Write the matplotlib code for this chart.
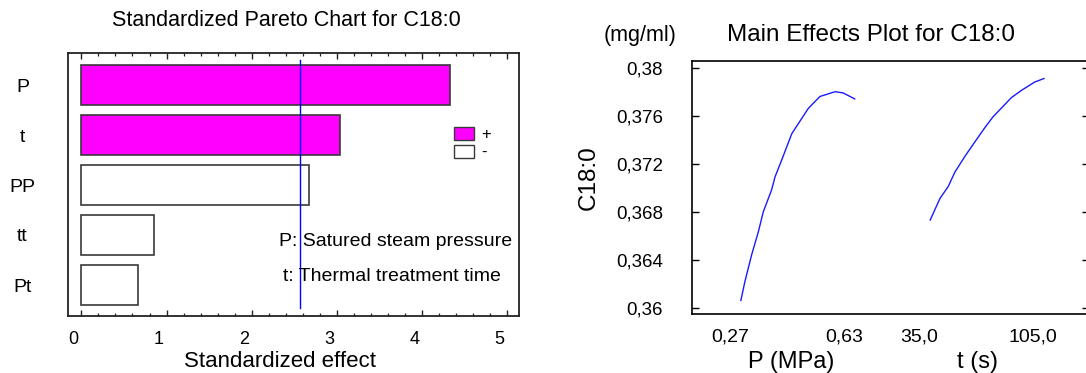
import matplotlib
matplotlib.use('Agg')
import matplotlib.pyplot as plt
from matplotlib.patches import Patch
from matplotlib.transforms import ScaledTranslation, blended_transform_factory
from matplotlib.ticker import MultipleLocator

plt.rcParams['font.family'] = ['Liberation Sans', 'DejaVu Sans']

# ---------------- Pareto chart data ----------------
effects = ['P', 't', 'PP', 'tt', 'Pt']
std_effect = [4.33, 3.04, 2.67, 0.85, 0.67]
effect_sign = ['+', '+', '-', '-', '-']
critical_value = 2.57
effect_ticks = [0, 1, 2, 3, 4, 5]
factor_notes = ['P: Satured steam pressure', 't: Thermal treatment time']

# ---------------- Main effects data ----------------
P_levels = [0.270, 0.283, 0.304, 0.325, 0.341, 0.367, 0.378, 0.399, 0.431,
            0.483, 0.520, 0.568, 0.593, 0.630]
P_response = [0.3606, 0.3622, 0.3644, 0.3663, 0.3680, 0.3698, 0.3709, 0.3723,
              0.3745, 0.3766, 0.3776, 0.3780, 0.3779, 0.3774]
t_levels = [35.0, 41.0, 46.1, 50.2, 56.3, 62.4, 68.6, 73.6, 84.9, 91.0, 99.2, 105.0]
t_response = [0.3673, 0.3691, 0.3701, 0.3713, 0.3726, 0.3738, 0.3750, 0.3759,
              0.3775, 0.3781, 0.3788, 0.3791]
P_range = [0.27, 0.63]
t_range = [35.0, 105.0]
P_tick_labels = ['0,27', '0,63']
t_tick_labels = ['35,0', '105,0']
y_ticks = [0.36, 0.364, 0.368, 0.372, 0.376, 0.38]
y_tick_labels = ['0,36', '0,364', '0,368', '0,372', '0,376', '0,38']

W, H = 1086, 373
fig = plt.figure(figsize=(W / 100, H / 100), dpi=100)
fig.patch.set_facecolor('white')

def px_axes(l, t, r, b):
    return fig.add_axes([l / W, (H - b) / H, (r - l) / W, (b - t) / H])

# ================= Left: Pareto chart =================
ax = px_axes(68.3, 53.3, 519.3, 316)
ypos = list(range(len(effects)))
colors = ['#ff00ff' if s == '+' else 'white' for s in effect_sign]
ax.barh(ypos, std_effect, height=0.8, color=colors, edgecolor='#3a3a3a',
        linewidth=1.2, zorder=2)
ax.set_xlim(-0.153, 5.14)
ax.set_ylim(4.62, -0.634)
ax.axvline(critical_value, ymin=0.029, ymax=0.9745, color='#0000ff', lw=1.0, zorder=3)

ax.set_xticks(effect_ticks)
ax.set_xticklabels([str(v) for v in effect_ticks], fontsize=13)
ax.xaxis.set_minor_locator(MultipleLocator(0.2))
ax.tick_params(axis='x', which='major', direction='in', length=4, width=1.0,
               top=True, bottom=True, pad=11, color='#222222')
ax.tick_params(axis='x', which='minor', direction='in', length=2.5, width=0.9,
               top=True, bottom=True, color='#222222')
off = ScaledTranslation(-8 / 100, 0, fig.dpi_scale_trans)
for lab in ax.get_xticklabels():
    lab.set_transform(lab.get_transform() + off)

ax.set_yticks(ypos)
ax.set_yticklabels(effects, fontsize=14)
ax.tick_params(axis='y', length=0, pad=33)
for lab in ax.get_yticklabels():
    lab.set_horizontalalignment('center')
for sp in ax.spines.values():
    sp.set_linewidth(1.3)
    sp.set_color('#222222')

ax.text(0.7266, 0.283, factor_notes[0], transform=ax.transAxes, ha='center',
        va='center', fontsize=14, zorder=4)
ax.text(0.7177, 0.1496, factor_notes[1], transform=ax.transAxes, ha='center',
        va='center', fontsize=14, zorder=4)

handles = [Patch(facecolor='#ff00ff', edgecolor='#3a3a3a', lw=1.0),
           Patch(facecolor='white', edgecolor='#3a3a3a', lw=1.0)]
ax.legend(handles, ['+', '-'], loc='upper left', bbox_to_anchor=(0.855, 0.7195),
          frameon=False, borderpad=0, borderaxespad=0, fontsize=12,
          handlelength=1.2, handleheight=0.8, labelspacing=0.18, handletextpad=0.45)

fig.text(286.7 / W, 1 - 20.7 / H, 'Standardized Pareto Chart for C18:0',
         ha='center', va='center', fontsize=15.5)
fig.text(280 / W, 1 - 366.7 / H, 'Standardized effect', ha='center',
         va='baseline', fontsize=16)

# ================= Right: Main effects plot =================
ax2 = px_axes(691.7, 60.7, 1089, 314.3)
seg_gap = 1.663  # start position of t segment in axis units

def p_pos(v):
    return (v - P_range[0]) / (P_range[1] - P_range[0])

def t_pos(v):
    return seg_gap + (v - t_range[0]) / (t_range[1] - t_range[0])

ax2.plot([p_pos(v) for v in P_levels], P_response, color='#1a1aff', lw=1.0)
ax2.plot([t_pos(v) for v in t_levels], t_response, color='#1a1aff', lw=1.0)
ax2.set_xlim(-0.432, 3.058)
ax2.set_ylim(0.359445, 0.380583)

ax2.set_yticks(y_ticks)
ax2.set_yticklabels(y_tick_labels, fontsize=13.5)
ax2.tick_params(axis='y', direction='in', length=5, width=1.0, left=True,
                right=True, pad=20.5)
xt = [p_pos(P_range[0]), p_pos(P_range[1]), t_pos(t_range[0]), t_pos(t_range[1])]
ax2.set_xticks(xt)
ax2.set_xticklabels(P_tick_labels + t_tick_labels, fontsize=14)
ax2.tick_params(axis='x', length=0, pad=10)
off2 = ScaledTranslation(-11 / 100, 0, fig.dpi_scale_trans)
for lab in ax2.get_xticklabels():
    lab.set_transform(lab.get_transform() + off2)
for sp in ax2.spines.values():
    sp.set_linewidth(1.2)

ax2.set_ylabel('C18:0', fontsize=17.5, va='center')
ax2.yaxis.set_label_coords(-0.259, 0.5375)

tr = blended_transform_factory(ax2.transData, fig.transFigure)
ax2.text((p_pos(P_range[0]) + p_pos(P_range[1])) / 2 - 0.055, 1 - 368.3 / H,
         'P (MPa)', transform=tr, ha='center', va='baseline', fontsize=17)
ax2.text((t_pos(t_range[0]) + t_pos(t_range[1])) / 2 - 0.085, 1 - 368.3 / H,
         't (s)', transform=tr, ha='center', va='baseline', fontsize=17)

fig.text(871 / W, 1 - 35 / H, 'Main Effects Plot for C18:0', ha='center',
         va='center', fontsize=17.5)
fig.text(639.7 / W, 1 - 35 / H, '(mg/ml)', ha='center', va='center', fontsize=15.5)

fig.savefig('out.png', dpi=100, facecolor='white')
